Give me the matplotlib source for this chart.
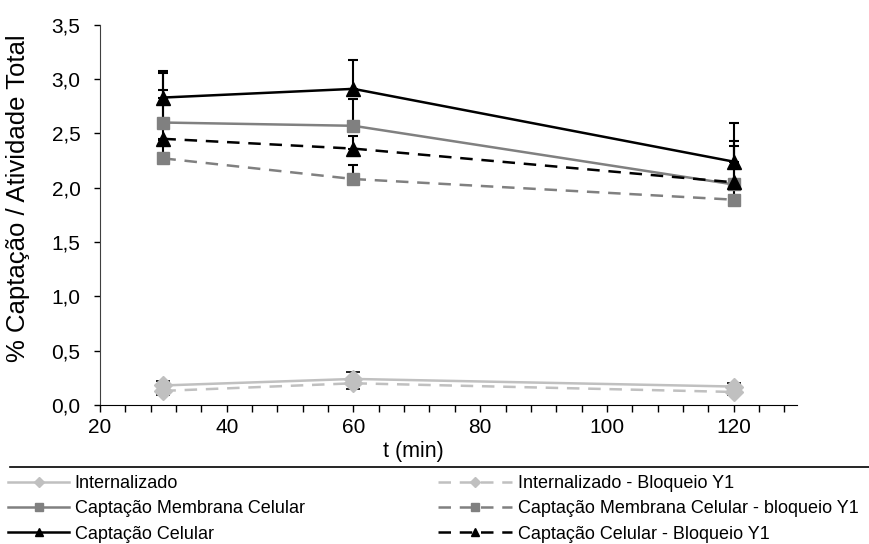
import matplotlib
matplotlib.use("Agg")
import matplotlib.pyplot as plt
from matplotlib.lines import Line2D
from matplotlib.ticker import MultipleLocator, FuncFormatter

plt.rcParams['font.family'] = ['Liberation Sans', 'DejaVu Sans']

t = [30, 60, 120]

internalizado = [0.18, 0.24, 0.17]
internalizado_err = [0.04, 0.06, 0.03]
internalizado_bloq = [0.13, 0.20, 0.12]
internalizado_bloq_err = [0.04, 0.05, 0.03]

membrana = [2.60, 2.57, 2.03]
membrana_err = [0.30, 0.25, 0.35]
membrana_bloq = [2.27, 2.08, 1.89]
membrana_bloq_err = [0.17, 0.13, 0.15]

celular = [2.83, 2.91, 2.24]
celular_err = [0.24, 0.27, 0.36]
celular_bloq = [2.45, 2.36, 2.05]
celular_bloq_err = [0.61, 0.12, 0.38]

labels = ["Internalizado", "Captação Membrana Celular", "Captação Celular",
          "Internalizado - Bloqueio Y1", "Captação Membrana Celular - bloqueio Y1",
          "Captação Celular - Bloqueio Y1"]

fig = plt.figure(figsize=(8.69, 5.44), dpi=100)
ax = fig.add_axes([0.1151, 0.2555, 0.802, 0.699])

light = "#c0c0c0"
mid = "#808080"
dash = (5, 3.5)

# error bars first, lines and markers on top
for y, e in [(celular, celular_err), (membrana, membrana_err),
             (celular_bloq, celular_bloq_err), (membrana_bloq, membrana_bloq_err)]:
    ax.errorbar(t, y, yerr=[[0] * 3, e], fmt="none", ecolor="black",
                elinewidth=1.5, capsize=3.6, capthick=1.5, zorder=2)
for y, e in [(internalizado, internalizado_err), (internalizado_bloq, internalizado_bloq_err)]:
    eb = ax.errorbar(t, y, yerr=e, fmt="none", ecolor="black",
                     elinewidth=1.2, capsize=5, capthick=1.2, zorder=2)
    eb[2][0].set_linestyle("--")

h1, = ax.plot(t, internalizado, color=light, lw=1.8, marker="D", ms=9,
              mec=light, mfc=light, zorder=3)
h2, = ax.plot(t, membrana, color=mid, lw=1.8, marker="s", ms=9,
              mec=mid, mfc=mid, zorder=3)
h3, = ax.plot(t, celular, color="black", lw=1.8, marker="^", ms=10, zorder=4)
h4, = ax.plot(t, internalizado_bloq, color=light, lw=1.8, marker="D", ms=9,
              mec=light, mfc=light, dashes=dash, zorder=3)
h5, = ax.plot(t, membrana_bloq, color=mid, lw=1.8, marker="s", ms=9,
              mec=mid, mfc=mid, dashes=dash, zorder=3)
h6, = ax.plot(t, celular_bloq, color="black", lw=1.8, marker="^", ms=10,
              dashes=dash, zorder=4)

ax.set_xlim(20, 130)
ax.set_ylim(0, 3.5)
ax.xaxis.set_major_locator(MultipleLocator(20))
ax.xaxis.set_minor_locator(MultipleLocator(4))
ax.yaxis.set_major_locator(MultipleLocator(0.5))
ax.xaxis.set_major_formatter(FuncFormatter(lambda v, p: "" if v > 125 else f"{v:.0f}"))
ax.yaxis.set_major_formatter(FuncFormatter(lambda v, p: f"{v:.1f}".replace(".", ",")))

for s in ["top", "right"]:
    ax.spines[s].set_visible(False)
ax.spines["left"].set_color("#404040")
ax.spines["bottom"].set_color("black")
ax.tick_params(axis="x", which="both", direction="out", length=5, width=1,
               labelsize=15, pad=4)
ax.tick_params(axis="y", direction="out", length=4, width=1, labelsize=15, pad=10)

ax.set_xlabel("t (min)", fontsize=15.5)
ax.xaxis.set_label_coords(0.45, -0.095)
ax.set_ylabel("% Captação / Atividade Total", fontsize=18.5)
ax.yaxis.set_label_coords(-0.1, 0.545)

# separator above the legend
fig.add_artist(Line2D([0.012, 1.0], [0.141, 0.141], color="black", lw=1.2))

leg_font = {"size": 13}
fig.legend([h1, h2, h3], labels[:3], loc="upper left", bbox_to_anchor=(0.005, 0.133),
           frameon=False, prop=leg_font, handlelength=3.4, handletextpad=0.3,
           labelspacing=0.45, borderaxespad=0, borderpad=0.2, markerscale=0.6)
fig.legend([h4, h5, h6], labels[3:], loc="upper left", bbox_to_anchor=(0.5, 0.133),
           frameon=False, prop=leg_font, handlelength=4.1, handletextpad=0.3,
           labelspacing=0.45, borderaxespad=0, borderpad=0.2, markerscale=0.6)

fig.savefig("out.png", dpi=100)
